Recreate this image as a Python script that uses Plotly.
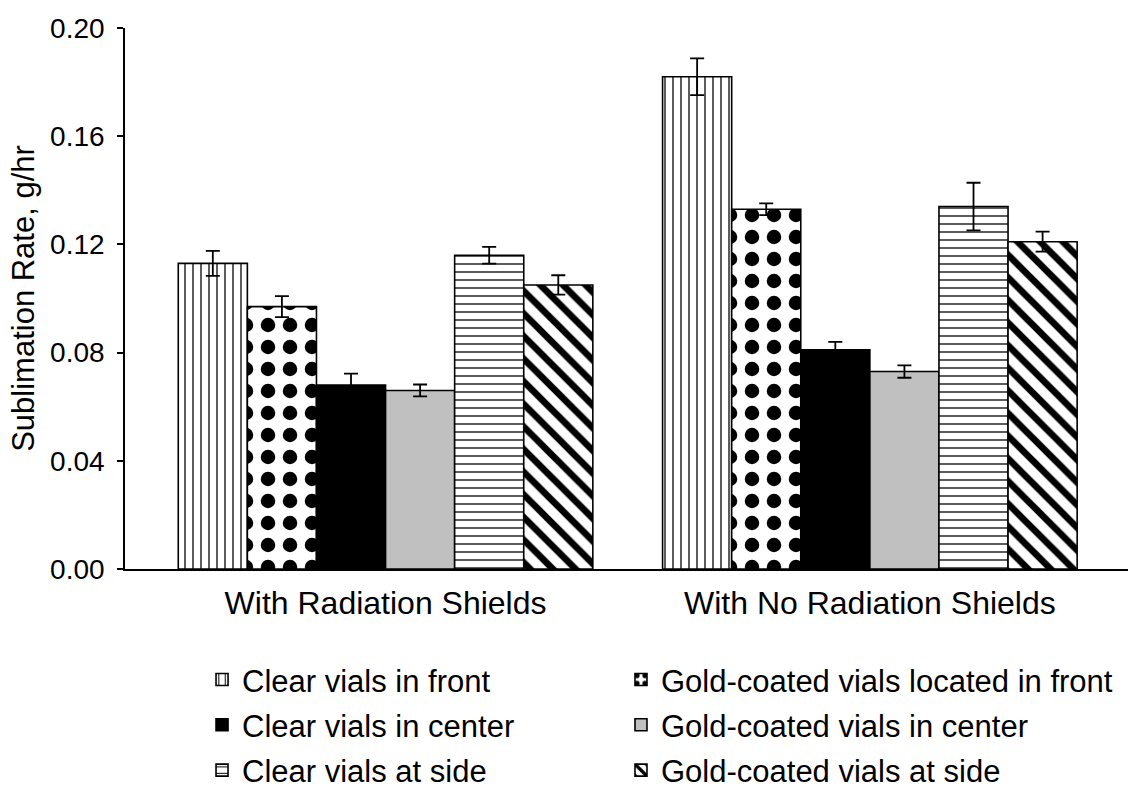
import plotly.graph_objects as go

# Shielding condition groups on the category axis
conditions = ["With Radiation Shields", "With No Radiation Shields"]

# Mean sublimation rates (g/hr) per vial type, one value per condition
clear_front = [0.113, 0.182]
gold_front = [0.097, 0.133]
clear_center = [0.068, 0.081]
gold_center = [0.066, 0.073]
clear_side = [0.116, 0.134]
gold_side = [0.105, 0.121]

# Standard deviations (g/hr)
clear_front_err = [0.0046, 0.0068]
gold_front_err = [0.0039, 0.0022]
clear_center_err = [0.0042, 0.0030]
gold_center_err = [0.0022, 0.0023]
clear_side_err = [0.0031, 0.0088]
gold_side_err = [0.0036, 0.0037]

y_ticks = [0.00, 0.04, 0.08, 0.12, 0.16, 0.20]
y_tick_text = ["0.00", "0.04", "0.08", "0.12", "0.16", "0.20"]


def hatch(shape, size, solidity):
    return dict(shape=shape, size=size, solidity=solidity,
                fgcolor="black", bgcolor="white", fgopacity=1)


# (name, values, errors, marker, legend column)
series = [
    ("Clear vials in front", clear_front, clear_front_err,
     dict(color="white", pattern=hatch("|", 8, 0.16)), "legend"),
    ("Gold-coated vials located in front", gold_front, gold_front_err,
     dict(color="white", pattern=hatch(".", 22, 0.34)), "legend2"),
    ("Clear vials in center", clear_center, clear_center_err,
     dict(color="black"), "legend"),
    ("Gold-coated vials in center", gold_center, gold_center_err,
     dict(color="#c0c0c0"), "legend2"),
    ("Clear vials at side", clear_side, clear_side_err,
     dict(color="white", pattern=hatch("-", 8, 0.16)), "legend"),
    ("Gold-coated vials at side", gold_side, gold_side_err,
     dict(color="white", pattern=hatch("\\", 16, 0.42)), "legend2"),
]

fig = go.Figure()
for i, (name, vals, errs, mk, leg) in enumerate(series):
    mk = dict(mk)
    mk["line"] = dict(color="black", width=1.6)
    fig.add_trace(go.Bar(
        name=name,
        x=conditions,
        y=vals,
        marker=mk,
        legend=leg,
        legendgroup=f"g{i}",
        error_y=dict(type="data", array=errs, visible=True,
                     color="black", thickness=1.8, width=7),
    ))

font_family = "Liberation Sans, Arial, sans-serif"
legend_common = dict(
    orientation="v",
    yanchor="top",
    y=-0.155,
    xanchor="left",
    tracegroupgap=2,
    font=dict(size=31, family=font_family, color="black"),
    bgcolor="rgba(0,0,0,0)",
    traceorder="grouped",
)

fig.update_layout(
    width=1135,
    height=802,
    barmode="group",
    bargap=0.144,
    bargroupgap=0,
    plot_bgcolor="white",
    paper_bgcolor="white",
    font=dict(family=font_family, color="black", size=28),
    margin=dict(l=125, r=7, t=28, b=233, autoexpand=False),
    showlegend=True,
    legend=dict(x=0.0768, **legend_common),
    legend2=dict(x=0.4945, **legend_common),
    xaxis=dict(
        type="category",
        range=[-0.538, 1.533],
        showline=True,
        linecolor="black",
        linewidth=1.6,
        ticks="",
        showgrid=False,
        tickfont=dict(size=32),
        ticklabelstandoff=5,
    ),
    yaxis=dict(
        range=[0, 0.2],
        tickvals=y_ticks,
        ticktext=y_tick_text,
        showline=True,
        linecolor="black",
        linewidth=1.6,
        ticks="outside",
        ticklen=6,
        tickwidth=1.6,
        tickcolor="black",
        showgrid=False,
        zeroline=False,
        tickfont=dict(size=28),
        ticklabelstandoff=7,
        title=dict(text="Sublimation Rate, g/hr", font=dict(size=31), standoff=6),
    ),
)

fig.write_html("out.html")
